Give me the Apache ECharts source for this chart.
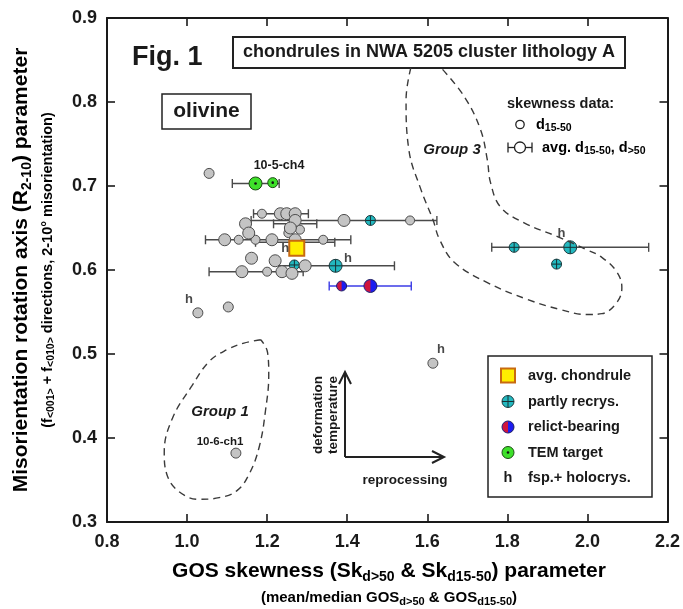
<!DOCTYPE html>
<html><head><meta charset="utf-8">
<script src="https://cdn.jsdelivr.net/npm/echarts@6/dist/echarts.min.js"></script>
<style>html,body{margin:0;padding:0;background:#fff}#c{width:683px;height:609px}</style>
</head><body><div id="c"></div><script>
const FONT = "'Liberation Sans', Arial, Helvetica, sans-serif";

// ---- axis tick labels ----
const xTicks = ['0.8','1.0','1.2','1.4','1.6','1.8','2.0','2.2'];
const yTicks = ['0.3','0.4','0.5','0.6','0.7','0.8','0.9'];

// ---- data: [GOS skewness, R2-10] ----
const grayAvg = [[1.233,0.667],[1.249,0.667],[1.270,0.667],[1.270,0.659],[1.392,0.659],
  [1.146,0.655],[1.154,0.644],[1.258,0.650],[1.094,0.636],[1.212,0.636],[1.270,0.636],
  [1.161,0.614],[1.220,0.611],[1.295,0.605],[1.137,0.598],[1.237,0.598],[1.262,0.596]];
const graySmall = [[1.187,0.667],[1.282,0.648],[1.129,0.636],[1.171,0.636],[1.340,0.636],
  [1.557,0.659],[1.200,0.598],[1.253,0.644]];
const grayOther = [[1.055,0.715],[1.027,0.549],[1.103,0.556],[1.614,0.489],[1.122,0.382]];
const cyanBig = [[1.371,0.605],[1.957,0.627]];
const cyanSmall = [[1.268,0.606],[1.458,0.659],[1.817,0.627],[1.923,0.607]];
const relictBig = [[1.458,0.581]];
const relictSmall = [[1.386,0.581]];
const temBig = [[1.171,0.703]];
const temSmall = [[1.214,0.704]];
const avgChondrule = [[1.274,0.626]];
// error bars: [R2-10, low, high]
const errBars = [[0.667,1.166,1.303],[0.659,1.160,1.624],[0.655,1.216,1.324],[0.636,1.046,1.409],
  [0.633,1.171,1.369],[0.605,1.229,1.518],[0.598,1.055,1.290],[0.627,1.761,2.153],[0.703,1.113,1.230]];
const relictBars = [[0.581,1.355,1.560]];
// 'h' = fsp.+ holocrys. flags (label anchor positions)
const hFlags = [[1.245,0.626],[1.402,0.614],[1.935,0.644],[1.005,0.565],[1.634,0.506]];
// group outlines
const group1 = [[1.184,0.517],[1.142,0.513],[1.099,0.505],[1.055,0.491],[1.012,0.462],[0.963,0.423],
  [0.943,0.383],[0.950,0.356],[0.980,0.336],[1.030,0.327],[1.080,0.329],[1.124,0.337],[1.154,0.356],
  [1.180,0.389],[1.196,0.433],[1.204,0.475],[1.201,0.502],[1.184,0.517]];
const group3 = [[1.559,0.841],[1.547,0.803],[1.554,0.743],[1.584,0.696],[1.614,0.660],[1.631,0.636],
  [1.668,0.609],[1.750,0.585],[1.850,0.565],[1.932,0.553],[1.999,0.547],[2.036,0.548],[2.073,0.561],
  [2.086,0.579],[2.073,0.598],[2.036,0.615],[1.999,0.624],[1.924,0.640],[1.842,0.656],[1.783,0.675],
  [1.758,0.704],[1.750,0.731],[1.733,0.767],[1.693,0.806],[1.634,0.841]];

const GRAY='#c4c4c4', GRAYB='#4d4d4d', CYAN='#22b8bf', GREEN='#3ee02a', YEL='#ffee00';

function barRender(color){ return function(params, api){
  const y=api.value(0), lo=api.value(1), hi=api.value(2);
  const a=api.coord([lo,y]), b=api.coord([hi,y]), c=4.5;
  const st={stroke:color, lineWidth:1.4};
  return {type:'group', children:[
    {type:'line', shape:{x1:a[0],y1:a[1],x2:b[0],y2:b[1]}, style:st},
    {type:'line', shape:{x1:a[0],y1:a[1]-c,x2:a[0],y2:a[1]+c}, style:st},
    {type:'line', shape:{x1:b[0],y1:b[1]-c,x2:b[0],y2:b[1]+c}, style:st}]};
};}
function cyanShape(cx,cy,r){ return [
  {type:'circle', shape:{cx,cy,r}, style:{fill:CYAN, stroke:'#1f3c40', lineWidth:1}},
  {type:'line', shape:{x1:cx-r,y1:cy,x2:cx+r,y2:cy}, style:{stroke:'#173033',lineWidth:1}},
  {type:'line', shape:{x1:cx,y1:cy-r,x2:cx,y2:cy+r}, style:{stroke:'#173033',lineWidth:1}}];}
function relictShape(cx,cy,r){ return [
  {type:'circle', shape:{cx,cy,r}, style:{fill:'#1c1cf0', stroke:'#202060', lineWidth:1}},
  {type:'sector', shape:{cx,cy,r0:0,r:r-0.5,startAngle:Math.PI/2,endAngle:Math.PI*1.5,clockwise:true}, style:{fill:'#d0143c'}}];}
function temShape(cx,cy,r){ return [
  {type:'circle', shape:{cx,cy,r}, style:{fill:GREEN, stroke:'#1c4a14', lineWidth:1}},
  {type:'circle', shape:{cx,cy,r:1.3}, style:{fill:'#111'}}];}
function markRender(fn, r){ return function(params, api){
  const p=api.coord([api.value(0),api.value(1)]);
  return {type:'group', children: fn(p[0],p[1],r)};
};}

function rich(m, s, lh, slh){ return {
  m:{fontFamily:FONT,fontWeight:'bold',fontSize:m,lineHeight:lh,verticalAlign:'middle',color:'#1a1a1a'},
  s:{fontFamily:FONT,fontWeight:'bold',fontSize:s,lineHeight:slh,verticalAlign:'bottom',color:'#1a1a1a'}};}
function txt(x,y,text,size,opts){ opts=opts||{};
  return {type:'text', x, y, rotation:opts.rot||0, silent:true, style:{text, fill:'#1a1a1a',
    font:(opts.italic?'italic ':'')+'bold '+size+'px '+FONT, align:opts.align||'center', textAlign:opts.align||'center',
    verticalAlign:'middle', textVerticalAlign:'middle'}};}
function rtxt(x,y,text,r,opts){ opts=opts||{};
  return {type:'text', x, y, rotation:opts.rot||0, silent:true, style:{text, rich:r,
    align:opts.align||'center', textAlign:opts.align||'center', verticalAlign:'middle', textVerticalAlign:'middle'}};}
const stroke = (w)=>({fill:'none', stroke:'#222', lineWidth:w});

const chart = echarts.init(document.getElementById('c'), null, {renderer:'canvas'});
const axisCommon = {type:'value', axisLine:{show:true,onZero:false,lineStyle:{color:'#1a1a1a',width:2}},
  axisTick:{show:true,inside:true,length:8,lineStyle:{color:'#1a1a1a',width:1.6}}, splitLine:{show:false}};
const lblStyle = {fontFamily:FONT,fontWeight:'bold',fontSize:18,color:'#1a1a1a'};

const graphic = [
  txt(132,58,'Fig. 1',27,{align:'left'}),
  {type:'rect', shape:{x:233,y:37,width:392,height:31}, style:stroke(2), silent:true},
  txt(429,52.5,'chondrules in NWA 5205 cluster lithology A',18),
  {type:'rect', shape:{x:162,y:94,width:89,height:35}, style:stroke(1.5), silent:true},
  txt(206.5,111.5,'olivine',21),
  txt(507,103.5,'skewness data:',14.5,{align:'left'}),
  {type:'circle', shape:{cx:520,cy:124.5,r:4.2}, style:{fill:'#fff',stroke:'#222',lineWidth:1.3}, silent:true},
  rtxt(536,125,'{m|d}{s|15-50}',rich(14.5,10.5,18,11),{align:'left'}),
  {type:'line', shape:{x1:508,y1:147.5,x2:532,y2:147.5}, style:stroke(1.3), silent:true},
  {type:'line', shape:{x1:508,y1:142.5,x2:508,y2:152.5}, style:stroke(1.3), silent:true},
  {type:'line', shape:{x1:532,y1:142.5,x2:532,y2:152.5}, style:stroke(1.3), silent:true},
  {type:'circle', shape:{cx:520,cy:147.5,r:5.5}, style:{fill:'#fff',stroke:'#222',lineWidth:1.3}, silent:true},
  rtxt(542,148,'{m|avg. d}{s|15-50}{m|, d}{s|>50}',rich(14.5,10.5,18,11),{align:'left'}),
  txt(452,150,'Group 3',15,{italic:true}),
  txt(220,412,'Group 1',15,{italic:true}),
  txt(220,442,'10-6-ch1',11.5),
  txt(279,166,'10-5-ch4',12.5),
  // arrows
  {type:'polyline', shape:{points:[[345,457],[345,373]]}, style:stroke(2), silent:true},
  {type:'polyline', shape:{points:[[339,384],[345,372],[351,384]]}, style:stroke(2), silent:true},
  {type:'polyline', shape:{points:[[345,457],[443,457]]}, style:stroke(2), silent:true},
  {type:'polyline', shape:{points:[[432,451],[444,457],[432,463]]}, style:stroke(2), silent:true},
  txt(318,415,'deformation',13.5,{rot:Math.PI/2}),
  txt(333,415,'temperature',13.5,{rot:Math.PI/2}),
  txt(405,480,'reprocessing',13.5),
  // legend
  {type:'rect', shape:{x:488,y:356,width:164,height:141}, style:stroke(1.5), silent:true},
  {type:'rect', shape:{x:501,y:368.5,width:14,height:14}, style:{fill:YEL,stroke:'#c86a10',lineWidth:2}, silent:true},
  {type:'group', children:cyanShape(508,401.5,6), silent:true},
  {type:'group', children:relictShape(508,427,6), silent:true},
  {type:'group', children:temShape(508,452.5,6), silent:true},
  txt(508,478,'h',14.5),
  txt(528,376,'avg. chondrule',14.5,{align:'left'}),
  txt(528,401.5,'partly recrys.',14.5,{align:'left'}),
  txt(528,427,'relict-bearing',14.5,{align:'left'}),
  txt(528,452.5,'TEM target',14.5,{align:'left'}),
  txt(528,478,'fsp.+ holocrys.',14.5,{align:'left'}),
  // axis titles
  rtxt(389,571,'{m|GOS skewness (Sk}{s|d>50}{m| & Sk}{s|d15-50}{m|) parameter}',rich(21,14,26,14)),
  rtxt(389,598,'{m|(mean/median GOS}{s|d>50}{m| & GOS}{s|d15-50}{m|)}',rich(15,11,19,11)),
  rtxt(21,270,'{m|Misorientation rotation axis (R}{s|2-10}{m|) parameter}',rich(21,14,26,14),{rot:Math.PI/2}),
  rtxt(48,270,'{m|(f}{s|<001>}{m| + f}{s|<010>}{m| directions, 2-10° misorientation)}',rich(14.5,10.5,18,11),{rot:Math.PI/2})
];

const option = {
  animation:false, backgroundColor:'#fff',
  grid:{left:107, right:12, top:18, bottom:87, containLabel:false},
  xAxis:[
    Object.assign({}, axisCommon, {min:0.8,max:2.2,interval:0.2,position:'bottom',
      axisLabel:Object.assign({margin:11,showMinLabel:true,showMaxLabel:true,
        formatter:v=>xTicks[Math.round((v-0.8)/0.2)]}, lblStyle)}),
    Object.assign({}, axisCommon, {min:0.8,max:2.2,interval:0.2,position:'top',axisLabel:{show:false}})
  ],
  yAxis:[
    Object.assign({}, axisCommon, {min:0.3,max:0.9,interval:0.1,position:'left',
      axisLabel:Object.assign({margin:10,formatter:v=>yTicks[Math.round((v-0.3)/0.1)]}, lblStyle)}),
    Object.assign({}, axisCommon, {min:0.3,max:0.9,interval:0.1,position:'right',axisLabel:{show:false}})
  ],
  graphic: graphic,
  series:[
    {type:'line', data:group1, smooth:0.4, symbol:'none', silent:true,
      lineStyle:{color:'#3a3a3a',width:1.4,type:[7,5]}},
    {type:'line', data:group3, smooth:0.4, symbol:'none', silent:true,
      lineStyle:{color:'#3a3a3a',width:1.4,type:[7,5]}},
    {type:'scatter', data:graySmall, symbol:'circle', symbolSize:9,
      itemStyle:{color:GRAY,borderColor:GRAYB,borderWidth:1,opacity:1}},
    {type:'custom', data:errBars, renderItem:barRender('#4a4a4a'), encode:{x:[1,2],y:0}},
    {type:'custom', data:relictBars, renderItem:barRender('#3b3be6'), encode:{x:[1,2],y:0}},
    {type:'scatter', data:grayAvg, symbol:'circle', symbolSize:12,
      itemStyle:{color:GRAY,borderColor:GRAYB,borderWidth:1,opacity:1}},
    {type:'scatter', data:grayOther, symbol:'circle', symbolSize:10,
      itemStyle:{color:GRAY,borderColor:GRAYB,borderWidth:1,opacity:1}},
    {type:'custom', data:cyanSmall, renderItem:markRender(cyanShape,5), encode:{x:0,y:1}},
    {type:'custom', data:cyanBig, renderItem:markRender(cyanShape,6.5), encode:{x:0,y:1}},
    {type:'custom', data:temSmall, renderItem:markRender(temShape,5), encode:{x:0,y:1}},
    {type:'custom', data:temBig, renderItem:markRender(temShape,6.5), encode:{x:0,y:1}},
    {type:'custom', data:relictSmall, renderItem:markRender(relictShape,5), encode:{x:0,y:1}},
    {type:'custom', data:relictBig, renderItem:markRender(relictShape,6.5), encode:{x:0,y:1}},
    {type:'scatter', data:avgChondrule, symbol:'rect', symbolSize:15,
      itemStyle:{color:YEL,borderColor:'#c86a10',borderWidth:2,opacity:1}},
    {type:'scatter', data:hFlags, symbolSize:0, silent:true,
      label:{show:true,position:'inside',formatter:'h',fontFamily:FONT,fontWeight:'bold',fontSize:13,color:'#1a1a1a'}}
  ]
};
chart.setOption(option);
</script></body></html>
